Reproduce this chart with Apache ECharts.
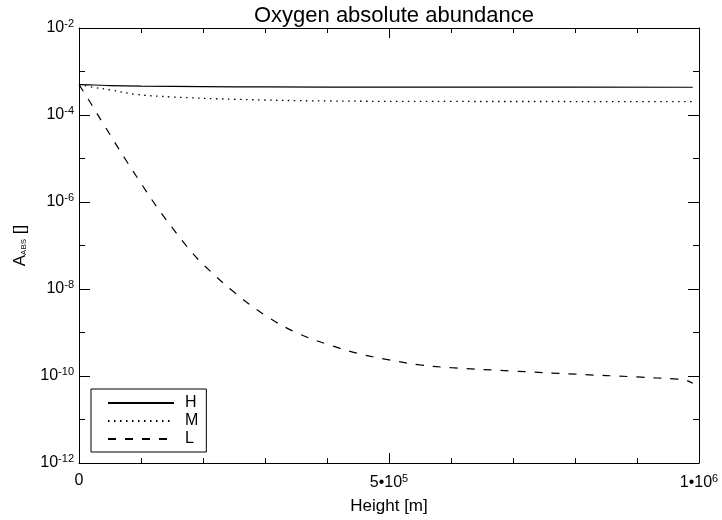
<!DOCTYPE html>
<html><head><meta charset="utf-8">
<script src="https://cdn.jsdelivr.net/npm/echarts@6/dist/echarts.min.js"></script>
<style>html,body{margin:0;padding:0;background:#fff}#c{width:722px;height:520px}</style>
</head><body><div id="c"></div>
<script>
// ---- data (height in m, absolute abundance) ----
const heightsH = [0, 25000, 50000, 100000, 200000, 300000, 500000, 700000, 990000];
const abundH   = [5.0e-4, 4.9e-4, 4.75e-4, 4.6e-4, 4.48e-4, 4.42e-4, 4.38e-4, 4.36e-4, 4.35e-4];

const heightsM = [0, 25000, 50000, 90000, 150000, 250000, 400000, 600000, 800000, 990000];
const abundM   = [5.0e-4, 4.3e-4, 3.8e-4, 3.0e-4, 2.6e-4, 2.3e-4, 2.1e-4, 2.05e-4, 2.04e-4, 2.03e-4];

const heightsL = [0, 15000, 40000, 75000, 100000, 125000, 150000, 175000, 200000, 250000, 300000, 350000,
                  400000, 450000, 500000, 550000, 600000, 700000, 800000, 900000, 965000, 975000, 990000];
const abundL   = [5.0e-4, 2.3e-4, 6.0e-5, 9.5e-6, 2.7e-6, 7.9e-7, 2.6e-7, 9.1e-8, 3.7e-8, 8.5e-9, 2.5e-9, 1.0e-9,
                  5.4e-10, 3.3e-10, 2.35e-10, 1.8e-10, 1.55e-10, 1.3e-10, 1.1e-10, 9.5e-11, 8.5e-11, 8.3e-11, 6.8e-11];

const seriesNames = ['H', 'M', 'L'];

const xTickValues = [0, 500000, 1000000];
const xTickLabels = ['0', '5•10^5', '1•10^6'];
const yTickExponents = [-12, -10, -8, -6, -4, -2];
const yTickLabels = ['10^-12', '10^-10', '10^-8', '10^-6', '10^-4', '10^-2'];

const titleText = 'Oxygen absolute abundance';
const xName = 'Height [m]';

// ---- chart ----
const FONT = "'Liberation Sans', Arial, sans-serif";
function toRich(lbl) {
  const p = lbl.split('^');
  return p.length > 1 ? '{b|' + p[0] + '}{s|' + p[1] + '}' : '{b|' + p[0] + '}';
}
const richStyle = {
  b: { fontSize: 16, fontFamily: FONT, color: '#000' },
  s: { fontSize: 11, fontFamily: FONT, color: '#000', padding: [0, 0, 8, 0] }
};
const toPairs = (hs, vs) => hs.map((h, i) => [h, Math.log10(vs[i])]);

const chart = echarts.init(document.getElementById('c'), null, { renderer: 'canvas' });
const baseX = {
  type: 'value', min: 0, max: 1000000, interval: 500000,
  axisLine: { show: true, onZero: false, lineStyle: { color: '#000', width: 1 } },
  axisTick: { show: true, inside: true, length: 10, lineStyle: { color: '#000' } },
  minorTick: { show: true, splitNumber: 5, length: 5, lineStyle: { color: '#000' } },
  splitLine: { show: false }, minorSplitLine: { show: false }
};
const baseY = {
  type: 'value', min: -12, max: -2, interval: 2,
  axisLine: { show: true, onZero: false, lineStyle: { color: '#000', width: 1 } },
  axisTick: { show: true, inside: true, length: 11, lineStyle: { color: '#000' } },
  minorTick: { show: true, splitNumber: 2, length: 6, lineStyle: { color: '#000' } },
  splitLine: { show: false }, minorSplitLine: { show: false }
};
chart.setOption({
  animation: false,
  backgroundColor: '#fff',
  textStyle: { fontFamily: FONT, color: '#000' },
  title: {
    text: titleText, left: 389, top: 0, textAlign: 'center',
    textStyle: { fontSize: 22, fontWeight: 'normal', color: '#000', fontFamily: FONT }
  },
  grid: { left: 79, right: 23, top: 28, bottom: 52, containLabel: false },
  legend: {
    data: seriesNames, orient: 'vertical', left: 91, top: 389,
    padding: [6, 8, 5, 16], itemGap: 2, itemWidth: 66, itemHeight: 16,
    borderColor: '#000', borderWidth: 1, backgroundColor: '#fff',
    itemStyle: { opacity: 0 },
    textStyle: { fontSize: 16, lineHeight: 16, color: '#000', fontFamily: FONT, padding: [0, 0, 0, 6] }
  },
  xAxis: [
    Object.assign({}, baseX, {
      position: 'bottom', name: xName, nameLocation: 'middle', nameGap: 35,
      nameTextStyle: { fontSize: 17, color: '#000', fontFamily: FONT },
      axisLabel: {
        show: true, margin: 10, color: '#000',
        formatter: v => { const i = xTickValues.indexOf(v); return i >= 0 ? toRich(xTickLabels[i]) : ''; },
        rich: richStyle
      }
    }),
    Object.assign({}, baseX, { position: 'top', axisLabel: { show: false } })
  ],
  yAxis: [
    Object.assign({}, baseY, {
      position: 'left', name: '{a|A}{sub|ABS}{a| []}', nameLocation: 'middle', nameGap: 50, nameRotate: 90,
      nameTextStyle: {
        rich: {
          a: { fontSize: 17, fontFamily: FONT, color: '#000' },
          sub: { fontSize: 8, fontFamily: FONT, color: '#000', padding: [6, 0, 0, 0] }
        }
      },
      axisLabel: {
        show: true, margin: 5, color: '#000',
        formatter: v => { const i = yTickExponents.indexOf(v); return i >= 0 ? toRich(yTickLabels[i]) : ''; },
        rich: richStyle
      }
    }),
    Object.assign({}, baseY, { position: 'right', axisLabel: { show: false } })
  ],
  series: [
    { name: 'H', type: 'line', xAxisIndex: 0, yAxisIndex: 0, data: toPairs(heightsH, abundH),
      symbol: 'none', smooth: 0.4, lineStyle: { color: '#000', width: 1.2, type: 'solid' }, itemStyle: { color: '#000' } },
    { name: 'M', type: 'line', xAxisIndex: 0, yAxisIndex: 0, data: toPairs(heightsM, abundM),
      symbol: 'none', smooth: 0.4, lineStyle: { color: '#000', width: 1.3, type: [1.5, 4.5] }, itemStyle: { color: '#000' } },
    { name: 'L', type: 'line', xAxisIndex: 0, yAxisIndex: 0, data: toPairs(heightsL, abundL),
      symbol: 'none', smooth: 0.4, lineStyle: { color: '#000', width: 1.2, type: [8, 9] }, itemStyle: { color: '#000' } }
  ]
});
</script>
</body></html>
